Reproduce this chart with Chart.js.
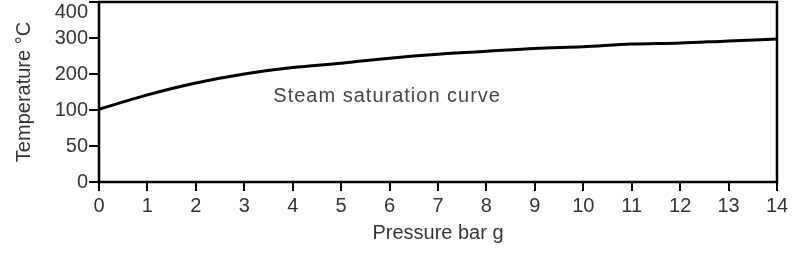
<!DOCTYPE html>
<html>
<head>
<meta charset="utf-8">
<script src="https://cdn.jsdelivr.net/npm/chart.js@4/dist/chart.umd.min.js"></script>
<style>
  html, body { margin: 0; padding: 0; background: #fff; }
  #wrap { width: 796px; height: 267px; }
</style>
</head>
<body>
<div id="wrap"><canvas id="steamChart" width="796" height="267"></canvas></div>
<script>
// Basınç (bar g) ve sıcaklık (°C) verileri
const pressures = [0, 1, 2, 3, 4, 5, 6, 7, 8, 9, 10, 11, 12, 13, 14];
const temperatures = [102, 142, 175, 200, 218, 230, 244, 255, 263, 271, 276, 283, 286, 292, 297];
const yTickLabels = [0, 50, 100, 200, 300, 400]; // eşit aralıklı çizilen etiketler
const curveLabel = 'Steam saturation curve';

// Sıcaklığı eksen üzerindeki sıra konumuna çevir (etiketler eşit aralıklı)
function toTickPos(t) {
    for (let i = 1; i < yTickLabels.length; i++) {
        if (t <= yTickLabels[i]) {
            const a = yTickLabels[i - 1], b = yTickLabels[i];
            return (i - 1) + (t - a) / (b - a);
        }
    }
    return yTickLabels.length - 1;
}

const points = pressures.map((p, i) => ({ x: p, y: toTickPos(temperatures[i]) }));

// Çerçeve ve eğri etiketi
const framePlugin = {
    id: 'frame',
    afterDatasetsDraw(chart) {
        const { ctx, chartArea: a, scales } = chart;
        ctx.save();
        ctx.strokeStyle = '#000';
        ctx.lineWidth = 2.5;
        ctx.strokeRect(a.left, a.top, a.right - a.left, a.bottom - a.top);
        ctx.fillStyle = '#444';
        ctx.font = '20px "Liberation Sans", Arial, sans-serif';
        ctx.letterSpacing = '1px';
        ctx.textBaseline = 'middle';
        ctx.fillText(curveLabel, scales.x.getPixelForValue(3.6), scales.y.getPixelForValue(toTickPos(137)));
        ctx.restore();
    }
};

const tickFont = { family: '"Liberation Sans", Arial, sans-serif', size: 20, lineHeight: 1 };
const titleFont = { family: '"Liberation Sans", Arial, sans-serif', size: 20 };

new Chart(document.getElementById('steamChart').getContext('2d'), {
    type: 'line',
    data: {
        datasets: [{
            data: points,
            borderColor: '#000',
            borderWidth: 3,
            pointRadius: 0,
            cubicInterpolationMode: 'monotone',
            fill: false
        }]
    },
    options: {
        responsive: false,
        animation: false,
        layout: { padding: { top: 2, right: 19, bottom: 22, left: 0 } },
        plugins: { legend: { display: false }, tooltip: { enabled: false } },
        scales: {
            x: {
                type: 'linear',
                min: 0,
                max: 14,
                border: { display: false },
                grid: { drawOnChartArea: false, drawTicks: true, tickLength: 9, color: '#000', lineWidth: 2 },
                ticks: { stepSize: 1, color: '#333', font: tickFont, padding: 5, maxRotation: 0, autoSkip: false },
                title: { display: true, text: 'Pressure bar g', color: '#333', font: titleFont, padding: { top: 0, bottom: 0 } },
                afterFit(scale) { scale.height = 63; }
            },
            y: {
                type: 'linear',
                min: 0,
                max: yTickLabels.length - 1,
                border: { display: false },
                grid: { drawOnChartArea: false, drawTicks: true, tickLength: 10, color: '#000', lineWidth: 2 },
                ticks: {
                    stepSize: 1,
                    autoSkip: false,
                    color: '#333',
                    font: tickFont,
                    padding: 1,
                    // en üst etiket kenarda kesilmesin diye bir satır aşağı kaydırılır
                    callback: v => v === yTickLabels.length - 1 ? ['', String(yTickLabels[v])] : yTickLabels[v]
                },
                title: { display: true, text: 'Temperature °C', color: '#333', font: titleFont, padding: { top: 12, bottom: 0 } },
                afterFit(scale) {
                    scale.width = 99;
                    scale.paddingTop = 0; // üst etiket taşmasını yok say
                    scale.paddingBottom = 0;
                }
            }
        }
    },
    plugins: [framePlugin]
});
</script>
</body>
</html>
